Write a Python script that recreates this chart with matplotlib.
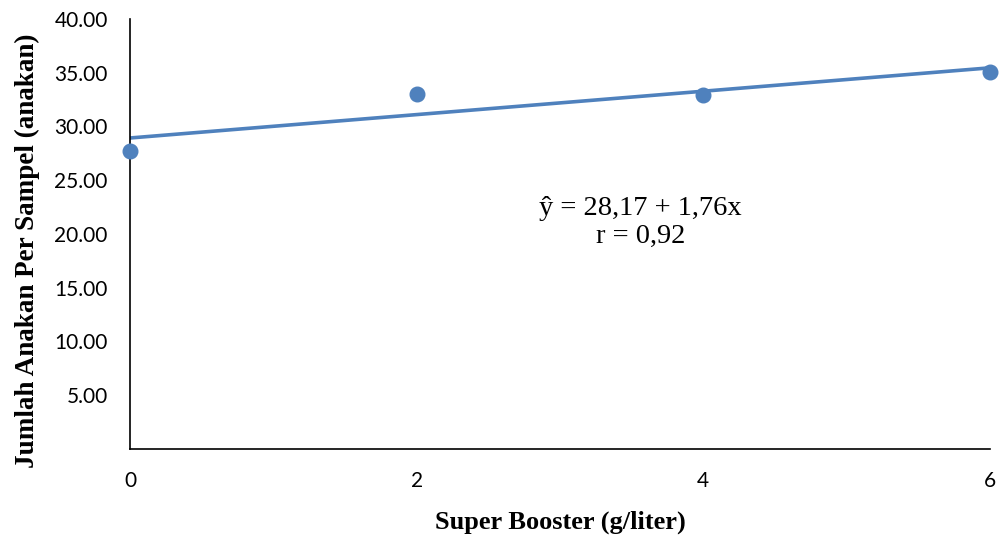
import numpy as np
import matplotlib.pyplot as plt

dosis = [0, 2, 4, 6]
anakan = [27.75, 33.05, 32.9, 35.05]
y_ticks = [5, 10, 15, 20, 25, 30, 35, 40]
persamaan = "ŷ = 28,17 + 1,76x\nr = 0,92"

biru = '#4F81BD'

fig = plt.figure(figsize=(10, 5.4), dpi=100)
ax = fig.add_axes([0.13, 0.1685, 0.86, 0.7965])

# garis trend linear
b, a = np.polyfit(dosis, anakan, 1)
xs = np.array([dosis[0], dosis[-1]])
ax.plot(xs, a + b * xs, color=biru, linewidth=2.6, solid_capstyle='butt', zorder=2)
ax.plot(dosis, anakan, 'o', color=biru, markersize=10.5, clip_on=False, zorder=3)

ax.set_xlim(0, 6)
ax.set_ylim(0, 40)
ax.set_xticks(dosis)
ax.set_yticks(y_ticks)
ax.set_yticklabels([f'{v:.2f}' for v in y_ticks])
ax.tick_params(length=0, labelsize=15)
ax.tick_params(axis='x', pad=16)
ax.tick_params(axis='y', pad=16)
for lbl in ax.get_xticklabels() + ax.get_yticklabels():
    lbl.set_fontfamily('Lato')

for s in ['top', 'right']:
    ax.spines[s].set_visible(False)
for s in ['left', 'bottom']:
    ax.spines[s].set_linewidth(1.2)

ax.set_xlabel('Super Booster (g/liter)', fontsize=19, fontweight='bold',
              fontfamily='Liberation Serif', labelpad=14)
ax.set_ylabel('Jumlah Anakan Per Sampel (anakan)', fontsize=19.5, fontweight='bold',
              fontfamily='Liberation Serif')
ax.yaxis.set_label_coords(-0.105, 0.46)

ax.text(3.56, 21.1, persamaan, ha='center', va='center', fontsize=20.5,
        fontfamily='Liberation Serif', linespacing=1.15)

fig.savefig('out.png')
